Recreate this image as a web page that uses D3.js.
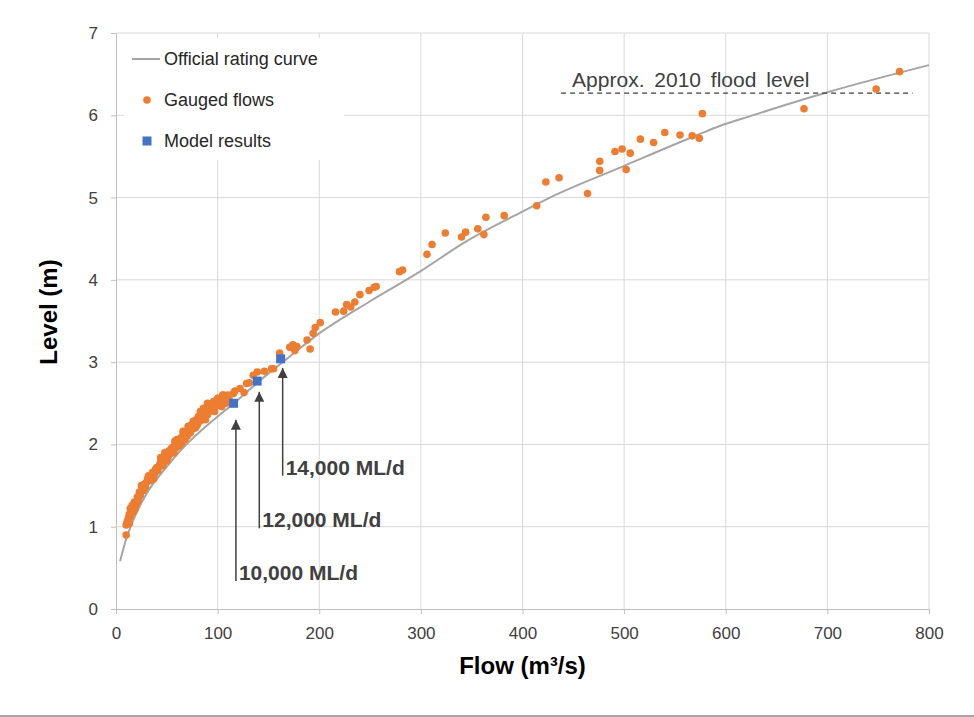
<!DOCTYPE html>
<html>
<head>
<meta charset="utf-8">
<script src="https://cdn.jsdelivr.net/npm/d3@7"></script>
<style>
  body { margin: 0; background: #fff; }
  text { font-family: "Liberation Sans", Arial, sans-serif; }
</style>
</head>
<body>
<div id="chart"></div>
<script>
// Data: official rating curve [flow m3/s, level m]
const ratingCurve = [
  [4, 0.58], [10, 0.85], [17, 1.08], [30, 1.4], [50, 1.73], [66, 1.96], [83, 2.16],
  [100, 2.34], [115, 2.49], [140, 2.76], [163, 2.99], [200, 3.35], [250, 3.74],
  [299, 4.1], [345, 4.47], [400, 4.83], [427, 5.0], [499, 5.38], [572, 5.76],
  [594, 5.87], [624, 5.99], [700, 6.28], [800, 6.61]
];

// Gauged flows [flow, level]
const gaugedFlows = [
  [10, 0.90], [10, 1.02], [11, 1.06], [12, 1.10], [13, 1.04], [13, 1.15], [14, 1.12], [15, 1.20],
  [16, 1.26], [17, 1.18], [18, 1.30], [19, 1.22], [20, 1.28], [21, 1.36], [22, 1.32], [23, 1.42],
  [24, 1.38], [26, 1.46], [27, 1.44], [28, 1.52], [29, 1.48], [30, 1.54], [31, 1.58], [33, 1.56],
  [34, 1.62], [35, 1.60], [36, 1.66], [37, 1.58], [38, 1.64], [39, 1.70], [40, 1.72], [41, 1.68],
  [42, 1.72], [43, 1.76], [44, 1.80], [45, 1.78], [46, 1.74], [47, 1.84], [48, 1.90], [49, 1.86],
  [50, 1.80], [51, 1.84], [52, 1.92], [53, 1.88], [54, 1.94], [55, 1.96], [56, 1.92], [57, 1.90],
  [58, 2.00], [59, 1.96], [60, 2.06], [61, 2.04], [62, 1.98], [63, 2.00], [64, 2.08], [65, 2.02],
  [66, 2.12], [67, 2.08], [68, 2.06], [69, 2.16], [70, 2.10], [71, 2.22], [72, 2.20], [73, 2.14],
  [74, 2.24], [75, 2.18], [76, 2.28], [77, 2.26], [78, 2.20], [79, 2.30], [79, 2.22], [80, 2.24],
  [81, 2.34], [82, 2.28], [83, 2.32], [84, 2.38], [85, 2.30], [86, 2.40], [86, 2.44], [87, 2.34],
  [88, 2.30], [89, 2.42], [90, 2.36], [91, 2.46], [92, 2.40], [93, 2.44], [94, 2.48], [95, 2.42],
  [96, 2.52], [97, 2.40], [98, 2.46], [99, 2.54], [100, 2.48], [101, 2.52], [102, 2.56], [103, 2.50],
  [104, 2.46], [105, 2.60], [106, 2.56], [107, 2.54], [108, 2.50], [109, 2.58], [110, 2.60],
  [111, 2.56], [112, 2.52], [14, 1.22], [25, 1.50], [32, 1.62], [44, 1.84], [58, 2.04], [66, 2.16],
  [74, 2.20], [83, 2.40], [90, 2.50], [100, 2.56],
  [105.6, 2.60], [115.5, 2.62], [117, 2.65], [122, 2.68], [126, 2.63], [128.5, 2.74], [131, 2.75],
  [135, 2.84], [139, 2.88], [146, 2.89], [153, 2.92], [155, 2.92], [161, 3.11], [171, 3.18],
  [174, 3.21], [176, 3.14], [178, 3.19], [188, 3.27], [191, 3.16], [194, 3.35], [196, 3.42],
  [201, 3.48], [216, 3.61], [224, 3.62], [227, 3.70], [231, 3.67], [235, 3.73], [240, 3.82],
  [249, 3.87], [254, 3.91], [256, 3.92], [279, 4.10], [282, 4.12], [306, 4.31], [311, 4.43],
  [324, 4.57], [340, 4.52], [344, 4.58], [356, 4.62], [362, 4.55], [364, 4.76], [382, 4.78],
  [414, 4.90], [423, 5.19], [436, 5.24], [464, 5.05], [476, 5.44], [476, 5.33], [491, 5.56],
  [498, 5.59], [506, 5.54], [502, 5.34], [516, 5.71], [529, 5.67], [540, 5.79], [555, 5.76],
  [567, 5.75], [574, 5.72], [577, 6.02], [677, 6.08], [748, 6.32], [771, 6.53]
];

// Model results [flow, level]
const modelResults = [[115.7, 2.50], [138.9, 2.77], [162, 3.04]];

// Annotation arrows: flow, tip level, base level, label
const arrowFlows = [118, 141, 164];
const arrowTips = [2.30, 2.64, 2.93];
const arrowBases = [0.34, 0.98, 1.62];
const arrowLabels = ["10,000 ML/d", "12,000 ML/d", "14,000 ML/d"];

// Flood level line
const floodLevel = 6.27;
const floodRange = [438, 784];
const floodLabel = "Approx. 2010 flood level";

const xTicks = [0, 100, 200, 300, 400, 500, 600, 700, 800];
const yTicks = [0, 1, 2, 3, 4, 5, 6, 7];

//Chart settings
const width = 974;
const height = 717;
const margin = { top: 33, right: 45, bottom: 108, left: 116 };
const orange = "#ED7D31";
const blue = "#4472C4";
const textGrey = "#404040";

const svg = d3.select("#chart")
  .append("svg")
  .attr("width", width)
  .attr("height", height);

const x = d3.scaleLinear().domain([0, 800]).range([margin.left, width - margin.right]);
const y = d3.scaleLinear().domain([0, 7]).range([height - margin.bottom, margin.top]);

//Gridlines
svg.append("g")
  .selectAll("line.v")
  .data(xTicks.slice(1))
  .join("line")
  .attr("x1", d => x(d)).attr("x2", d => x(d))
  .attr("y1", y(0)).attr("y2", y(7))
  .attr("stroke", "#d9d9d9");

svg.append("g")
  .selectAll("line.h")
  .data(yTicks.slice(1))
  .join("line")
  .attr("x1", x(0)).attr("x2", x(800))
  .attr("y1", d => y(d)).attr("y2", d => y(d))
  .attr("stroke", "#d9d9d9");

//Axes
const xAxis = svg.append("g")
  .attr("transform", `translate(0, ${y(0)})`)
  .call(d3.axisBottom(x).tickValues(xTicks).tickFormat(d3.format("d")).tickSize(5).tickPadding(13));
const yAxis = svg.append("g")
  .attr("transform", `translate(${x(0)}, 0)`)
  .call(d3.axisLeft(y).tickValues(yTicks).tickFormat(d3.format("d")).tickSize(5).tickPadding(13));

[xAxis, yAxis].forEach(a => {
  a.select(".domain").attr("stroke", "#bfbfbf");
  a.selectAll(".tick line").attr("stroke", "#bfbfbf");
  a.selectAll(".tick text")
    .attr("fill", textGrey)
    .style("font-size", "17px")
    .style("font-family", "'Liberation Sans', Arial, sans-serif");
});

//Axis titles
svg.append("text")
  .attr("x", (x(0) + x(800)) / 2)
  .attr("y", 674)
  .attr("text-anchor", "middle")
  .attr("font-size", "24px")
  .attr("font-weight", "bold")
  .text("Flow (m³/s)");

svg.append("text")
  .attr("transform", `translate(57, ${(y(0) + y(7)) / 2 - 9}) rotate(-90)`)
  .attr("text-anchor", "middle")
  .attr("font-size", "24px")
  .attr("font-weight", "bold")
  .text("Level (m)");

//Legend box (covers gridlines)
const legend = svg.append("g");
legend.append("rect")
  .attr("x", x(0) + 8).attr("y", y(7) + 5)
  .attr("width", 220).attr("height", 122)
  .attr("fill", "#fff");

//Rating curve
const line = d3.line()
  .x(d => x(d[0]))
  .y(d => y(d[1]))
  .curve(d3.curveMonotoneX);

svg.append("path")
  .datum(ratingCurve)
  .attr("d", line)
  .attr("fill", "none")
  .attr("stroke", "#a5a5a5")
  .attr("stroke-width", 2);

//Flood level dashed line and label
svg.append("line")
  .attr("x1", x(floodRange[0])).attr("x2", x(floodRange[1]))
  .attr("y1", y(floodLevel)).attr("y2", y(floodLevel))
  .attr("stroke", textGrey)
  .attr("stroke-width", 1.3)
  .attr("stroke-dasharray", "5,4");

svg.append("text")
  .attr("x", x(floodRange[0]) + 11)
  .attr("y", y(floodLevel) - 6)
  .attr("font-size", "21px")
  .attr("word-spacing", "4px")
  .attr("fill", textGrey)
  .text(floodLabel);

//Gauged flows
svg.append("g")
  .selectAll("circle")
  .data(gaugedFlows)
  .join("circle")
  .attr("cx", d => x(d[0]))
  .attr("cy", d => y(d[1]))
  .attr("r", 3.8)
  .attr("fill", orange);

//Model results
svg.append("g")
  .selectAll("rect")
  .data(modelResults)
  .join("rect")
  .attr("x", d => x(d[0]) - 4.5)
  .attr("y", d => y(d[1]) - 4.5)
  .attr("width", 9)
  .attr("height", 9)
  .attr("fill", blue);

//Arrow marker
svg.append("defs")
  .append("marker")
  .attr("id", "arrow")
  .attr("viewBox", "0 0 10 10")
  .attr("refX", 10).attr("refY", 5)
  .attr("markerWidth", 10).attr("markerHeight", 10)
  .attr("markerUnits", "userSpaceOnUse")
  .attr("orient", "auto")
  .append("path")
  .attr("d", "M0,0 L10,5 L0,10 Z")
  .attr("fill", textGrey);

const arrows = svg.append("g")
  .selectAll("g")
  .data(arrowFlows.map((f, i) => ({ f, tip: arrowTips[i], base: arrowBases[i], label: arrowLabels[i] })))
  .join("g");

arrows.append("line")
  .attr("x1", d => x(d.f)).attr("x2", d => x(d.f))
  .attr("y1", d => y(d.base)).attr("y2", d => y(d.tip))
  .attr("stroke", textGrey)
  .attr("stroke-width", 1.5)
  .attr("marker-end", "url(#arrow)");

arrows.append("text")
  .attr("x", d => x(d.f) + 3)
  .attr("y", d => y(d.base) - 1)
  .attr("font-size", "21px")
  .attr("font-weight", "bold")
  .attr("fill", textGrey)
  .text(d => d.label);

//Legend items
legend.append("line")
  .attr("x1", 132).attr("x2", 160)
  .attr("y1", 59).attr("y2", 59)
  .attr("stroke", "#a5a5a5")
  .attr("stroke-width", 2);
legend.append("circle")
  .attr("cx", 147).attr("cy", 100).attr("r", 3.8)
  .attr("fill", orange);
legend.append("rect")
  .attr("x", 142.5).attr("y", 136.5).attr("width", 9).attr("height", 9)
  .attr("fill", blue);

legend.selectAll("text.legend")
  .data(["Official rating curve", "Gauged flows", "Model results"])
  .join("text")
  .attr("x", 164)
  .attr("y", (d, i) => 65 + i * 41)
  .attr("font-size", "18px")
  .attr("fill", "#262626")
  .text(d => d);

//Bottom frame line
svg.append("line")
  .attr("x1", 0).attr("x2", width)
  .attr("y1", 716).attr("y2", 716)
  .attr("stroke", "#a6a6a6")
  .attr("stroke-width", 2);
</script>
</body>
</html>
